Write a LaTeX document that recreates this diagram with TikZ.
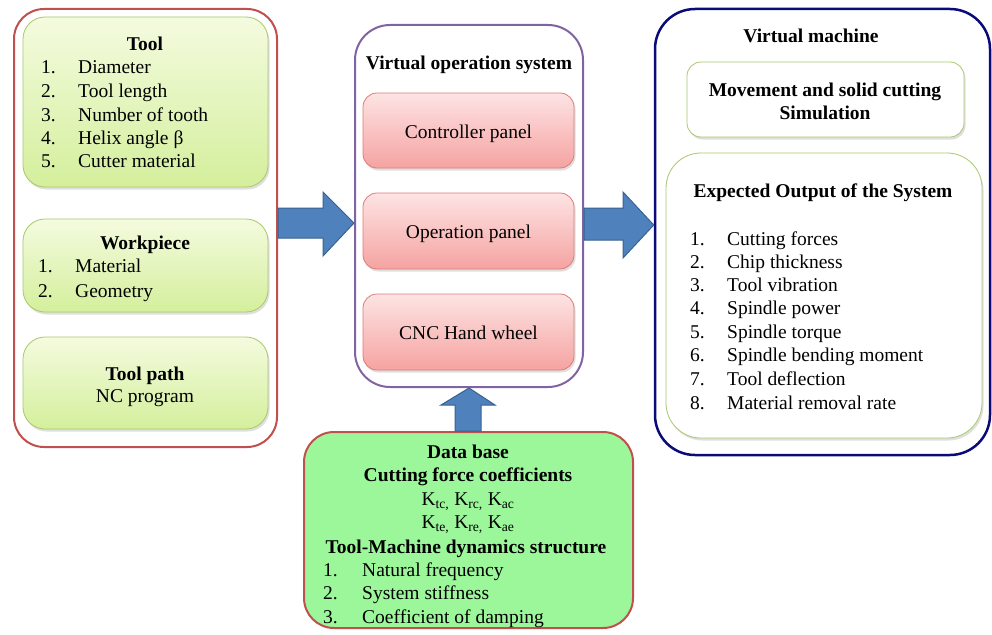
\documentclass[tikz,border=0pt]{standalone}
\usepackage{fontspec}
\setmainfont{Liberation Serif}
\usetikzlibrary{shadows}
\definecolor{redb}{HTML}{C0504D}
\definecolor{purb}{HTML}{8064A2}
\definecolor{navyb}{HTML}{0A0A78}
\definecolor{greenb}{HTML}{A9C96B}
\definecolor{gtop}{HTML}{F4FBDF}
\definecolor{gbot}{HTML}{D4EF9C}
\definecolor{rtop}{HTML}{FDE4E4}
\definecolor{rbot}{HTML}{F5A3A1}
\definecolor{redin}{HTML}{E07A77}
\definecolor{dbfill}{HTML}{9CF79A}
\definecolor{arrf}{HTML}{4F81BD}
\definecolor{arrb}{HTML}{3A6291}
\tikzset{
  outerbox/.style={draw, rounded corners=#1, line width=2pt, fill=white},
  greenbox/.style={draw=greenb, line width=0.8pt, rounded corners=22pt, top color=gtop, bottom color=gbot,
     drop shadow={shadow xshift=1.5pt, shadow yshift=-2.5pt, opacity=0.25}},
  whitebox/.style={draw=greenb, line width=0.8pt, rounded corners=#1, fill=white,
     drop shadow={shadow xshift=1.5pt, shadow yshift=-2.5pt, opacity=0.25}},
  pinkbox/.style={draw=redin, line width=0.8pt, rounded corners=14pt, top color=rtop, bottom color=rbot,
     drop shadow={shadow xshift=1.5pt, shadow yshift=-2.5pt, opacity=0.25}},
  txt/.style={anchor=base, inner sep=0pt, font=\fontsize{19.5}{23}\selectfont},
  btxt/.style={anchor=base, inner sep=0pt, font=\fontsize{19.5}{23}\selectfont\bfseries},
  itm/.style={anchor=base west, inner sep=0pt, font=\fontsize{19.5}{23}\selectfont},
  fatarrow/.style={fill=arrf, draw=arrb, line width=1pt, line join=miter},
}
\begin{document}
\begin{tikzpicture}[x=1pt,y=-1pt]
\useasboundingbox (0,0) rectangle (992,634);

% left group
\node[outerbox=30pt, draw=redb, minimum width=263pt, minimum height=438pt] (lo) at (145.5,228) {};
\node[greenbox, minimum width=245pt, minimum height=170pt] (tool) at (145.5,102) {};
\node[greenbox, minimum width=245pt, minimum height=93pt] (wp) at (145.5,265.5) {};
\node[greenbox, minimum width=245pt, minimum height=92pt] (tp) at (145.5,383) {};

\node[btxt] (toolT) at (145,51) {Tool};
\foreach \i/\t/\y in {1/Diameter/74, 2/Tool length/97, 3/Number of tooth/121, 4/Helix angle β/144, 5/Cutter material/167}{
  \node[itm] (tooln\i) at (41,\y) {\i.};
  \node[itm] (tooli\i) at (78,\y) {\t};
}
\node[btxt] (wpT) at (145,249) {Workpiece};
\foreach \i/\t/\y in {1/Material/272, 2/Geometry/297}{
  \node[itm] (wpn\i) at (38,\y) {\i.};
  \node[itm] (wpi\i) at (75,\y) {\t};
}
\node[btxt] (tpT) at (145,380) {Tool path};
\node[txt] (tpL) at (145,402) {NC program};

% middle group
\node[outerbox=35pt, draw=purb, minimum width=228pt, minimum height=362pt] (vos) at (469,206) {};
\node[btxt] (vosT) at (469,69) {Virtual operation system};
\node[pinkbox, minimum width=211pt, minimum height=75pt] (cp) at (468.5,130.5) {};
\node[pinkbox, minimum width=211pt, minimum height=76pt] (op) at (468.5,231) {};
\node[pinkbox, minimum width=211pt, minimum height=76pt] (cnc) at (468.5,332) {};
\node[txt] (cpT) at (468.5,138) {Controller panel};
\node[txt] (opT) at (468.5,238.5) {Operation panel};
\node[txt] (cncT) at (468.5,339) {CNC Hand wheel};

% right group
\node[outerbox=40pt, draw=navyb, line width=2.5pt, minimum width=335pt, minimum height=446pt] (vm) at (822.5,232) {};
\node[btxt] (vmT) at (811,42) {Virtual machine};
\node[whitebox=14pt, minimum width=277pt, minimum height=75pt] (mv) at (825.5,99.5) {};
\node[btxt] (mv1) at (825,96) {Movement and solid cutting};
\node[btxt] (mv2) at (825,119) {Simulation};
\node[whitebox=35pt, minimum width=316pt, minimum height=285pt] (eo) at (824,295.5) {};
\node[btxt] (eoT) at (823,197) {Expected Output of the System};
\foreach \i/\t/\y in {1/Cutting forces/245, 2/Chip thickness/268, 3/Tool vibration/291, 4/Spindle power/314, 5/Spindle torque/338, 6/Spindle bending moment/361, 7/Tool deflection/385, 8/Material removal rate/409}{
  \node[itm] (eon\i) at (690,\y) {\i.};
  \node[itm] (eoi\i) at (727,\y) {\t};
}

% data base
\node[draw=redb, line width=2pt, rounded corners=30pt, fill=dbfill, minimum width=329pt, minimum height=196pt] (db) at (468.5,530) {};
\node[btxt] (dbT) at (468,458) {Data base};
\node[btxt] (dbC) at (468,481) {Cutting force coefficients};
\node[txt] (dbK1) at (468,505) {K\textsubscript{tc,} K\textsubscript{rc,} K\textsubscript{ac}};
\node[txt] (dbK2) at (468,528) {K\textsubscript{te,} K\textsubscript{re,} K\textsubscript{ae}};
\node[btxt] (dbM) at (466,553) {Tool-Machine dynamics structure};
\foreach \i/\t/\y in {1/Natural frequency/576, 2/System stiffness/599, 3/Coefficient of damping/623}{
  \node[itm] (dbn\i) at (323,\y) {\i.};
  \node[itm] (dbi\i) at (362,\y) {\t};
}

% fat arrows
\draw[fatarrow] (lo.east |- 0,208) -- (323,208) -- (323,192) -- (vos.west |- 0,223) -- (323,256) -- (323,238) -- (lo.east |- 0,238) -- cycle;
\draw[fatarrow] (vos.east |- 0,208) -- (623,208) -- (623,192) -- (vm.west |- 0,225) -- (623,258) -- (623,240) -- (vos.east |- 0,240) -- cycle;
\draw[fatarrow] (db.north -| 455,0) -- (455,405) -- (441,405) -- (vos.south) -- (495,405) -- (481,405) -- (db.north -| 481,0) -- cycle;
\end{tikzpicture}
\end{document}
